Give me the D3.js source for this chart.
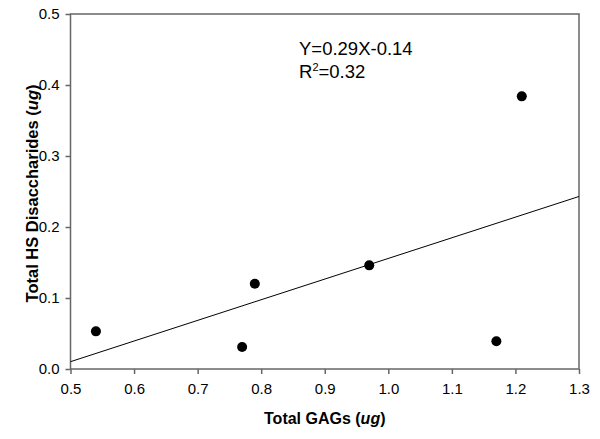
<!DOCTYPE html>
<html>
<head>
<meta charset="utf-8">
<script src="https://cdn.jsdelivr.net/npm/d3@7"></script>
<style>
  body { margin: 0; background: #fff; }
  svg { display: block; font-family: Arial, "Liberation Sans", sans-serif; }
</style>
</head>
<body>
<div id="chart"></div>
<script>
// scatter data
var gagValues = [0.54, 0.77, 0.79, 0.97, 1.17, 1.21];
var hsValues = [0.053, 0.031, 0.120, 0.146, 0.039, 0.384];

// fitted line end points
var fitX = [0.5, 1.3];
var fitY = [0.0103, 0.243];

var xTicks = [0.5, 0.6, 0.7, 0.8, 0.9, 1.0, 1.1, 1.2, 1.3];
var yTicks = [0.0, 0.1, 0.2, 0.3, 0.4, 0.5];

var width = 600, height = 439;
var border = {top: 14, right: 21, bottom: 70, left: 70.5};
var plotW = width - border.left - border.right;
var plotH = height - border.top - border.bottom;

var xScale = d3.scaleLinear().domain([0.5, 1.3]).range([0, plotW]);
var yScale = d3.scaleLinear().domain([0, 0.5]).range([plotH, 0]);

var svg = d3.select("#chart").append("svg")
   .attr("width", width)
   .attr("height", height);

var g = svg.append("g")
   .attr("transform", "translate(" + border.left + "," + border.top + ")");

var axisColor = "#666";

// axes
var xAxis = d3.axisBottom(xScale).tickValues(xTicks).tickSize(5).tickPadding(9)
   .tickFormat(d3.format(".1f"));
var yAxis = d3.axisLeft(yScale).tickValues(yTicks).tickSize(5).tickPadding(6)
   .tickFormat(d3.format(".1f"));

var gx = g.append("g").attr("transform", "translate(0," + plotH + ")").call(xAxis);
var gy = g.append("g").call(yAxis);

[gx, gy].forEach(function(ax) {
   ax.select(".domain").remove();
   ax.selectAll(".tick line").attr("stroke", axisColor).attr("stroke-width", 1.5);
   ax.selectAll(".tick text")
      .attr("fill", "#000")
      .style("font-size", "15px")
      .style("font-family", "Arial, 'Liberation Sans', sans-serif");
});

// frame
g.append("rect")
   .attr("width", plotW)
   .attr("height", plotH)
   .attr("fill", "none")
   .attr("stroke", axisColor)
   .attr("stroke-width", 1.5);

// regression line
g.append("line")
   .attr("x1", xScale(fitX[0])).attr("y1", yScale(fitY[0]))
   .attr("x2", xScale(fitX[1])).attr("y2", yScale(fitY[1]))
   .attr("stroke", "#000")
   .attr("stroke-width", 1);

// points
g.selectAll(".point").data(d3.range(gagValues.length)).enter()
   .append("circle").attr("class", "point")
   .attr("cx", function(i) { return xScale(gagValues[i]); })
   .attr("cy", function(i) { return yScale(hsValues[i]); })
   .attr("r", 5)
   .attr("fill", "#000");

// equation
svg.append("text")
   .attr("x", 299).attr("y", 55)
   .style("font-size", "18.5px")
   .text("Y=0.29X-0.14");
var r2 = svg.append("text")
   .attr("x", 299).attr("y", 78)
   .style("font-size", "18.5px");
r2.append("tspan").text("R");
r2.append("tspan").attr("dy", -7).style("font-size", "11px").text("2");
r2.append("tspan").attr("dy", 7).text("=0.32");

// axis titles
var xt = svg.append("text")
   .attr("x", border.left + plotW / 2).attr("y", 424)
   .attr("text-anchor", "middle")
   .style("font-size", "16px").style("font-weight", "bold");
xt.append("tspan").text("Total GAGs (");
xt.append("tspan").style("font-style", "italic").text("ug");
xt.append("tspan").text(")");

var yt = svg.append("text")
   .attr("transform", "translate(38," + (border.top + plotH / 2 + 2) + ") rotate(-90)")
   .attr("text-anchor", "middle")
   .style("font-size", "16.5px").style("font-weight", "bold");
yt.append("tspan").text("Total HS Disaccharides (");
yt.append("tspan").style("font-style", "italic").text("ug");
yt.append("tspan").text(")");
</script>
</body>
</html>
